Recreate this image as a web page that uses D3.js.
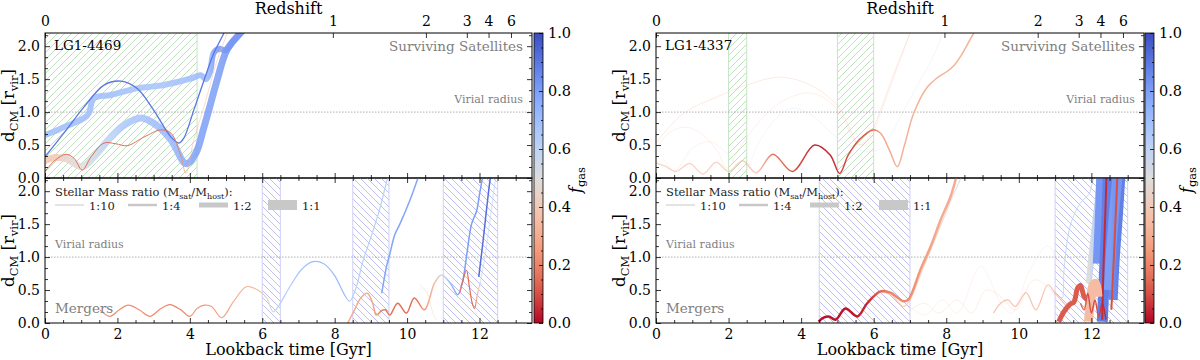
<!DOCTYPE html>
<html>
<head>
<meta charset="utf-8">
<script src="https://cdn.jsdelivr.net/npm/d3@7"></script>
<style>
body { margin: 0; background: #fff; }
text { font-family: "DejaVu Serif", serif; }
</style>
</head>
<body>
<div id="chart-area"></div>
<script>
// ---- data: each point is [lookback time (Gyr), d_CM (r_vir), f_gas] ----
var tMax = 13.45, dMax = 2.2;
var xMajor = [0, 2, 4, 6, 8, 10, 12];
var yMajor = [0, 0.5, 1.0, 1.5, 2.0];
var cbMajor = [0, 0.2, 0.4, 0.6, 0.8, 1.0];
var zLabels = ["0", "1", "2", "3", "4", "6"];
var zTimes = [0, 7.95, 10.52, 11.65, 12.25, 12.87];
var ratioLabels = ["1:10", "1:4", "1:2", "1:1"];
var ratioValues = [0.1, 0.25, 0.5, 1.0];

// LG1-4469 surviving satellites
var satLA = [[0,0.65,0.7],[0.52,0.77,0.7],[1.08,0.91,0.7],[1.21,0.98,0.7],[1.35,1.21,0.7],[1.82,1.26,0.7],[2.54,1.36,0.68],[3.28,1.41,0.68],[4.03,1.51,0.7],[4.3,1.56,0.72],[4.45,1.5,0.72],[4.56,1.62,0.75],[4.66,1.9,0.8],[4.8,1.96,0.82],[5.0,1.94,0.82],[5.2,2.08,0.82],[5.5,2.26,0.82]];
var satLB = [[0,0.27,0.38],[0.3,0.31,0.4],[0.6,0.29,0.45],[1.03,0.17,0.5],[1.35,0.32,0.55],[1.82,0.62,0.62],[2.18,0.8,0.66],[2.65,0.91,0.68],[3.0,0.83,0.7],[3.48,0.58,0.72],[3.83,0.24,0.76],[3.94,0.22,0.78],[4.17,0.38,0.8],[4.39,0.77,0.8],[4.58,1.14,0.8],[4.75,1.48,0.8],[5.02,1.94,0.82],[5.3,2.14,0.82],[5.56,2.3,0.82]];
var satLC = [[0,0.32,0.9],[0.52,0.68,0.9],[1.08,1.08,0.9],[1.63,1.41,0.9],[2.1,1.47,0.9],[2.54,1.36,0.9],[3.0,1.03,0.9],[3.48,0.62,0.9],[3.7,0.53,0.9],[3.83,0.6,0.9],[4.11,1.03,0.9],[4.39,1.48,0.9],[4.66,1.89,0.9],[4.94,2.2,0.9],[5.0,2.3,0.9]];
var satLD = [[0,0.1,0.15],[0.28,0.27,0.15],[0.58,0.36,0.15],[0.8,0.3,0.15],[1.03,0.12,0.15],[1.27,0.32,0.15],[1.63,0.53,0.15],[1.95,0.52,0.15],[2.27,0.49,0.15],[2.73,0.62,0.15],[3.2,0.73,0.15],[3.48,0.68,0.15],[3.76,0.32,0.2],[3.89,0.07,0.3],[4.11,0.58,0.35],[4.39,1.08,0.35],[4.75,1.78,0.35],[5.0,2.15,0.35],[5.1,2.3,0.35]];

// LG1-4469 mergers
var mergLA = [[1.52,0.2,0.22],[1.79,0.1,0.22],[2.05,0.2,0.22],[2.3,0.27,0.22],[2.6,0.2,0.22],[2.9,0.1,0.22],[3.2,0.22,0.22],[3.45,0.28,0.2],[3.75,0.2,0.2],[4.0,0.1,0.22],[4.2,0.22,0.25],[4.4,0.27,0.25],[4.6,0.25,0.25],[4.88,0.08,0.28],[5.2,0.32,0.3],[5.56,0.55,0.32],[5.88,0.5,0.35],[6.12,0.38,0.45],[6.3,0.17,0.55],[6.43,0.24,0.62],[6.76,0.55,0.65],[7.1,0.82,0.68],[7.4,0.93,0.7],[7.7,0.9,0.7],[8.0,0.72,0.72],[8.25,0.45,0.72],[8.41,0.33,0.65],[8.6,0.55,0.62],[8.77,0.92,0.62],[9.0,1.3,0.62],[9.24,1.72,0.62],[9.46,2.2,0.62],[9.5,2.28,0.62]];
var mergLB = [[9.3,0.45,0.78],[9.43,0.85,0.78],[9.52,1.04,0.78],[9.66,1.34,0.78],[9.8,1.5,0.78],[10.07,1.85,0.78],[10.3,2.2,0.78],[10.36,2.3,0.78]];
var mergLC = [[8.36,0,0.3],[8.55,0.2,0.3],[8.72,0.38,0.3],[8.9,0.45,0.3],[9.05,0.3,0.28],[9.15,0.12,0.25],[9.3,0.19,0.2],[9.4,0.2,0.18],[9.52,0.12,0.18],[9.74,0.3,0.15],[9.98,0.15,0.15],[10.2,0.38,0.15],[10.48,0.2,0.25],[10.76,0.61,0.35],[10.95,0.73,0.55],[11.2,0.6,0.7],[11.4,0.43,0.78],[11.53,0.62,0.8],[11.65,1.04,0.8],[11.78,1.5,0.8],[11.92,1.7,0.8],[12.0,1.95,0.8],[12.08,2.2,0.8],[12.12,2.3,0.8]];
var mergLD = [[10.35,0.58,0.4],[10.56,0.45,0.4],[10.7,0.17,0.4],[10.8,0.05,0.4]];
var mergLE = [[11.45,0.45,0.2],[11.53,0.62,0.15],[11.64,0.8,0.15],[11.72,0.55,0.15],[11.8,0.3,0.15],[11.86,0.22,0.15],[11.95,0.45,0.35],[12.02,0.62,0.5]];
var mergLF = [[11.98,0.7,0.92],[12.1,1.25,0.92],[12.2,1.75,0.92],[12.3,2.2,0.92],[12.34,2.3,0.92]];
var mergLG = [[12.0,0.55,0.6],[12.15,1.0,0.62],[12.3,1.6,0.62],[12.45,2.2,0.65],[12.5,2.3,0.65]];

// LG1-4337 surviving satellites
var satRA = [[0,0.23,0.3],[0.25,0.18,0.3],[0.55,0.1,0.3],[0.93,0.22,0.3],[1.29,0.06,0.3],[1.66,0.24,0.3],[2.0,0.1,0.3],[2.39,0.26,0.28],[2.76,0.08,0.25],[3.22,0.36,0.15],[3.76,0.1,0.12],[4.37,0.5,0.05],[4.8,0.35,0.05],[5.06,0.07,0.08],[5.3,0.35,0.1],[5.6,0.58,0.1],[5.98,0.73,0.15],[6.19,0.68,0.28],[6.45,0.4,0.3],[6.65,0.17,0.32],[6.85,0.5,0.32],[7.1,0.98,0.32],[7.48,1.38,0.32],[7.75,1.52,0.32],[8.03,1.62,0.32],[8.2,1.7,0.32],[8.4,1.85,0.32],[8.76,2.2,0.32],[8.9,2.3,0.32]];
var satRB = [[0,0.53,0.3],[0.75,0.98,0.3],[1.68,1.23,0.3],[2.5,1.41,0.3],[3.43,1.53,0.3],[4.25,1.41,0.3],[5.0,1.1,0.3],[5.36,0.73,0.3],[5.6,0.5,0.3],[5.85,0.6,0.3],[6.1,0.9,0.3],[6.5,1.5,0.3],[7.0,2.2,0.3],[7.06,2.3,0.3]];
var satRC = [[0,0.45,0.35],[0.4,0.7,0.35],[0.85,0.77,0.35],[1.3,0.65,0.35],[1.7,0.4,0.35],[1.96,0.15,0.35],[2.3,0.45,0.35],[3.0,0.95,0.35],[3.6,1.2,0.35],[4.25,1.29,0.35],[4.8,1.15,0.35],[5.2,0.85,0.35],[5.5,0.55,0.35],[5.8,0.5,0.35],[6.2,1.0,0.35],[6.6,1.6,0.35],[7.0,2.2,0.35],[7.06,2.3,0.35]];
var satRD = [[0.2,0.3,0.35],[0.5,0.1,0.35],[1.0,0.45,0.35],[1.49,0.55,0.35],[2.0,0.35,0.35],[2.4,0.1,0.4],[2.9,0.6,0.55],[3.4,0.95,0.62],[3.78,1.06,0.62],[4.3,0.95,0.62],[4.8,0.7,0.62],[5.3,0.5,0.62],[5.8,0.4,0.62],[6.2,0.45,0.62],[6.8,1.0,0.62],[7.3,1.5,0.62],[7.6,1.8,0.62],[7.9,2.2,0.62],[7.95,2.3,0.62]];

// LG1-4337 mergers
var mergRA = [[4.48,0.02,0.02],[4.62,0.08,0.02],[4.76,0.1,0.02],[4.95,0.05,0.02],[5.22,0.22,0.02],[5.55,0.1,0.03],[5.82,0.3,0.05],[6.19,0.48,0.15],[6.46,0.46,0.2],[6.82,0.33,0.22],[6.95,0.35,0.22],[7.29,0.81,0.25],[7.57,1.16,0.28],[7.85,1.57,0.3],[8.12,1.92,0.3],[8.27,2.2,0.3],[8.32,2.3,0.3]];
var mergRB = [[6.2,0.47,0.35],[6.5,0.42,0.35],[6.82,0.25,0.35],[7.0,0.35,0.38],[7.3,0.75,0.4],[7.6,1.15,0.42],[7.9,1.55,0.45],[8.2,1.95,0.5],[8.4,2.2,0.55],[8.45,2.3,0.55]];
var mergRC = [[6.9,0.3,0.3],[7.4,0.12,0.3],[7.9,0.35,0.3],[8.3,0.15,0.3],[8.95,0.86,0.3],[9.5,0.3,0.3],[9.8,0.15,0.3],[10.3,0.8,0.3],[10.8,1.17,0.3],[11.2,0.7,0.3]];
var mergRD = [[7.0,0.2,0.3],[7.4,0.3,0.3],[7.8,0.15,0.3],[8.3,0.35,0.3],[8.7,0.15,0.3],[9.1,0.5,0.3],[9.5,0.4,0.3],[9.9,0.2,0.3],[10.4,0.65,0.3],[10.8,0.55,0.3],[11.1,0.3,0.3]];
var mergRE = [[9.3,0.15,0.25],[9.5,0.3,0.25],[9.7,0.35,0.25],[9.9,0.25,0.25],[10.2,0.46,0.25],[10.47,0.2,0.25],[10.8,0.58,0.25],[11.0,0.45,0.25],[11.16,0.35,0.25],[11.4,0.2,0.25]];
var mergRF = [[11.1,0.02,0.12],[11.24,0.17,0.12],[11.4,0.28,0.12],[11.52,0.32,0.12],[11.62,0.53,0.12],[11.7,0.57,0.12],[11.8,0.4,0.12],[11.9,0.35,0.12]];
var mergRG = [[11.15,0.4,0.62],[11.2,0.38,0.62],[11.25,0.84,0.62],[11.43,1.5,0.62],[11.71,1.83,0.62],[11.93,1.95,0.62],[12.04,2.15,0.62],[12.1,2.3,0.62]];
var mergRH = [[11.92,0.02,0.35],[11.98,0.35,0.35],[12.05,0.58,0.35],[12.12,0.6,0.35],[12.18,0.4,0.35]];
var mergRI = [[11.93,0.6,0.5],[12.0,1.0,0.55],[12.1,1.5,0.62],[12.18,1.9,0.72],[12.24,2.3,0.78]];
var mergRJ = [[12.3,0.02,0.88],[12.34,0.5,0.88],[12.38,1.0,0.88],[12.42,1.5,0.88],[12.45,2.0,0.88],[12.47,2.3,0.88]];
var mergRK = [[12.48,0.5,0.8],[12.53,1.0,0.8],[12.6,1.5,0.82],[12.68,2.0,0.82],[12.73,2.3,0.82]];
var mergRL = [[12.15,0.9,0.82],[12.2,1.5,0.82],[12.25,2.3,0.82]];
var mergRM = [[11.7,0.3,0.15],[11.8,0.2,0.15],[11.9,0.45,0.1],[12.0,0.15,0.1],[12.1,0.35,0.1],[12.2,0.1,0.1],[12.3,0.3,0.05],[12.4,0.05,0.05]];
var mergRN = [[12.3,0.05,0.05],[12.33,0.8,0.05],[12.38,1.6,0.05],[12.42,2.3,0.05]];
var mergRO = [[12.55,0.2,0.1],[12.62,1.0,0.1],[12.72,2.3,0.1]];
var mergRP = [[12.6,0.35,0.86],[12.66,1.0,0.86],[12.74,1.6,0.88],[12.82,2.3,0.88]];

// hatched spans (Gyr)
var leftTopSpans = [[0, 4.2]];
var leftBottomSpans = [[6.0, 6.5], [8.5, 9.5], [11.0, 12.5]];
var rightTopSpans = [[2.0, 2.5], [5.0, 6.0]];
var rightBottomSpans = [[4.5, 7.0], [11.0, 13.0]];

// ---- styling ----
var fgasColor = d3.piecewise(d3.interpolateRgb, ["#b40426", "#de604d", "#f49a7b", "#f5c4ad", "#dddddd", "#b8d0f9", "#8db0fe", "#6282ea", "#3b4cc0"]);
var widthOf = function(r) { return 10 * r; };

var panels = [
  { key: "L", name: "LG1-4469", x0: 45, x1: 532, cb: 534,
    topSpans: leftTopSpans, bottomSpans: leftBottomSpans,
    topCurves: [
      { pts: satLA, ratio: 0.6, alpha: 0.85 },
      { pts: satLB, ratio: 0.7, alpha: 0.85 },
      { pts: satLC, ratio: 0.13, alpha: 1 },
      { pts: satLD, ratio: 0.1, alpha: [[0, 1], [3.7, 1], [3.95, 0.5], [5.1, 0.5]] }
    ],
    bottomCurves: [
      { pts: mergLA, ratio: 0.12, alpha: 1 },
      { pts: mergLB, ratio: 0.15, alpha: 1 },
      { pts: mergLC, ratio: 0.15, alpha: 1 },
      { pts: mergLD, ratio: 0.1, alpha: 0.4 },
      { pts: mergLE, ratio: 0.12, alpha: 1 },
      { pts: mergLF, ratio: 0.15, alpha: 1 },
      { pts: mergLG, ratio: 0.12, alpha: 0.5 }
    ] },
  { key: "R", name: "LG1-4337", x0: 656, x1: 1144, cb: 1145,
    topSpans: rightTopSpans, bottomSpans: rightBottomSpans,
    topCurves: [
      { pts: satRB, ratio: 0.1, alpha: 0.25 },
      { pts: satRC, ratio: 0.1, alpha: 0.22 },
      { pts: satRD, ratio: 0.1, alpha: 0.2 },
      { pts: satRA, ratio: 0.15, alpha: [[0, 0.45], [2.8, 0.5], [3.3, 1], [8.9, 1]] }
    ],
    bottomCurves: [
      { pts: mergRC, ratio: 0.1, alpha: 0.15 },
      { pts: mergRD, ratio: 0.1, alpha: 0.2 },
      { pts: mergRE, ratio: 0.12, alpha: 0.6 },
      { pts: mergRB, ratio: 0.12, alpha: 0.8 },
      { pts: mergRA, ratio: 0.25, alpha: 1 },
      { pts: mergRG, ratio: 0.1, alpha: 0.8 },
      { pts: mergRI, ratio: 0.6, alpha: 1 },
      { pts: mergRL, ratio: 0.8, alpha: 1 },
      { pts: mergRP, ratio: 0.9, alpha: 1 },
      { pts: mergRJ, ratio: 1.1, alpha: 1 },
      { pts: mergRK, ratio: 1.0, alpha: 1 },
      { pts: mergRN, ratio: 0.2, alpha: 1 },
      { pts: mergRO, ratio: 0.2, alpha: 1 },
      { pts: mergRF, ratio: 0.5, alpha: 1 },
      { pts: mergRH, ratio: 0.9, alpha: 1 },
      { pts: mergRM, ratio: 0.15, alpha: 1 }
    ] }
];
var rowRange = { top: [178, 33], bottom: [323, 178] };

var svg = d3.select("#chart-area").append("svg").attr("width", 1200).attr("height", 360);
var defs = svg.append("defs");

// hatch patterns
defs.append("pattern").attr("id", "hatchGreen").attr("patternUnits", "userSpaceOnUse")
  .attr("width", 7).attr("height", 7)
  .append("path").attr("d", "M-1,1 l2,-2 M0,7 l7,-7 M6,8 l2,-2")
  .attr("stroke", "#b5dcb5").attr("stroke-width", 0.9);
defs.append("pattern").attr("id", "hatchBlue").attr("patternUnits", "userSpaceOnUse")
  .attr("width", 7).attr("height", 7)
  .append("path").attr("d", "M-1,6 l2,2 M0,0 l7,7 M6,-1 l2,2")
  .attr("stroke", "#b8b8f0").attr("stroke-width", 0.9);

var gradCount = 0;
var line = d3.line().curve(d3.curveCatmullRom.alpha(0.5));

function styleAxis(a, size) {
  a.selectAll(".domain").remove();
  a.selectAll(".tick line").attr("stroke", "#000").attr("stroke-width", 0.8);
  a.selectAll("text").attr("font-family", "DejaVu Serif").attr("font-size", size).attr("fill", "#000");
}

function drawRow(p, row) {
  var x = d3.scaleLinear().domain([0, tMax]).range([p.x0, p.x1]);
  var y = d3.scaleLinear().domain([0, dMax]).range(rowRange[row]);
  var spans = row == "top" ? p.topSpans : p.bottomSpans;
  var curves = row == "top" ? p.topCurves : p.bottomCurves;
  var clipId = "clip" + p.key + row;
  defs.append("clipPath").attr("id", clipId).append("rect")
    .attr("x", p.x0).attr("y", y(dMax)).attr("width", p.x1 - p.x0).attr("height", y(0) - y(dMax));

  var g = svg.append("g").attr("clip-path", "url(#" + clipId + ")");

  // hatched spans
  spans.forEach(function(s) {
    g.append("rect").attr("x", x(s[0])).attr("y", y(dMax)).attr("width", x(s[1]) - x(s[0]))
      .attr("height", y(0) - y(dMax))
      .attr("fill", row == "top" ? "url(#hatchGreen)" : "url(#hatchBlue)");
    s.forEach(function(t) {
      g.append("line").attr("x1", x(t)).attr("x2", x(t)).attr("y1", y(0)).attr("y2", y(dMax))
        .attr("stroke", row == "top" ? "#c5e5c5" : "#d0d0f8").attr("stroke-width", 1);
    });
  });

  // virial radius
  g.append("line").attr("x1", p.x0).attr("x2", p.x1).attr("y1", y(1)).attr("y2", y(1))
    .attr("stroke", "#999").attr("stroke-width", 0.8).attr("stroke-dasharray", "1.5,1.5");

  // curves coloured by f_gas
  curves.forEach(function(c) {
    var pts = c.pts;
    var xa = x(pts[0][0]), xb = x(pts[pts.length - 1][0]);
    var alphaAt = typeof c.alpha == "number" ? function() { return c.alpha; }
      : d3.scaleLinear().domain(c.alpha.map(function(a) { return a[0]; }))
          .range(c.alpha.map(function(a) { return a[1]; })).clamp(true);
    var gid = "grad" + (gradCount++);
    var lg = defs.append("linearGradient").attr("id", gid).attr("gradientUnits", "userSpaceOnUse")
      .attr("x1", xa).attr("x2", xb).attr("y1", 0).attr("y2", 0);
    pts.forEach(function(pt) {
      lg.append("stop").attr("offset", (x(pt[0]) - xa) / (xb - xa))
        .attr("stop-color", fgasColor(pt[2])).attr("stop-opacity", alphaAt(pt[0]));
    });
    g.append("path")
      .attr("d", line(pts.map(function(pt) { return [x(pt[0]), y(pt[1])]; })))
      .attr("fill", "none").attr("stroke", "url(#" + gid + ")")
      .attr("stroke-width", widthOf(c.ratio))
      .attr("stroke-linejoin", "round").attr("stroke-linecap", "butt");
  });

  // axes (ticks inward)
  var minorX = d3.range(0, tMax, 0.5).filter(function(v) { return v % 2 != 0; });
  var minorY = d3.range(0, dMax, 0.5 / 3).filter(function(v) { return Math.abs(v * 2 - Math.round(v * 2)) > 0.01; });

  var axisG = svg.append("g");
  axisG.append("g").attr("transform", "translate(0," + y(0) + ")")
    .call(d3.axisBottom(x).tickValues(xMajor).tickSizeInner(-5).tickSizeOuter(0).tickPadding(6)
      .tickFormat(row == "bottom" ? d3.format("d") : function() { return ""; }));
  axisG.append("g").attr("transform", "translate(0," + y(0) + ")")
    .call(d3.axisBottom(x).tickValues(minorX).tickSizeInner(-3).tickSizeOuter(0).tickFormat(""));

  if (row == "top") {
    axisG.append("g").attr("transform", "translate(0," + y(dMax) + ")")
      .call(d3.axisTop(x).tickValues(zTimes).tickSizeInner(-5).tickSizeOuter(0).tickPadding(7)
        .tickFormat(function(d, i) { return zLabels[i]; }));
  } else {
    axisG.append("g").attr("transform", "translate(0," + y(dMax) + ")")
      .call(d3.axisTop(x).tickValues(xMajor).tickSizeInner(-5).tickSizeOuter(0).tickFormat(""));
    axisG.append("g").attr("transform", "translate(0," + y(dMax) + ")")
      .call(d3.axisTop(x).tickValues(minorX).tickSizeInner(-3).tickSizeOuter(0).tickFormat(""));
  }

  axisG.append("g").attr("transform", "translate(" + p.x0 + ",0)")
    .call(d3.axisLeft(y).tickValues(yMajor).tickSizeInner(-5).tickSizeOuter(0).tickPadding(5).tickFormat(d3.format(".1f")));
  axisG.append("g").attr("transform", "translate(" + p.x0 + ",0)")
    .call(d3.axisLeft(y).tickValues(minorY).tickSizeInner(-3).tickSizeOuter(0).tickFormat(""));
  axisG.append("g").attr("transform", "translate(" + p.x1 + ",0)")
    .call(d3.axisRight(y).tickValues(yMajor).tickSizeInner(-5).tickSizeOuter(0).tickFormat(""));
  axisG.append("g").attr("transform", "translate(" + p.x1 + ",0)")
    .call(d3.axisRight(y).tickValues(minorY).tickSizeInner(-3).tickSizeOuter(0).tickFormat(""));
  styleAxis(axisG, 14);

  // frame
  svg.append("rect").attr("x", p.x0).attr("y", y(dMax)).attr("width", p.x1 - p.x0)
    .attr("height", y(0) - y(dMax)).attr("fill", "none").attr("stroke", "#000").attr("stroke-width", 1);

  // y label
  var yl = svg.append("text")
    .attr("transform", "translate(" + (p.x0 - 31) + "," + ((y(0) + y(dMax)) / 2) + ") rotate(-90)")
    .attr("text-anchor", "middle").attr("font-size", 16.5);
  yl.append("tspan").text("d");
  yl.append("tspan").attr("font-size", 11.5).attr("dy", 4).text("CM");
  yl.append("tspan").attr("dy", -4).text(" [r");
  yl.append("tspan").attr("font-size", 11.5).attr("dy", 4).text("vir");
  yl.append("tspan").attr("dy", -4).text("]");

  if (row == "top") {
    svg.append("text").attr("x", p.x0 + 9).attr("y", 50).attr("font-size", 13.5).text(p.name);
    svg.append("text").attr("x", p.x1 - 9).attr("y", 51).attr("font-size", 13.5)
      .attr("text-anchor", "end").attr("fill", "#808080").text("Surviving Satellites");
    svg.append("text").attr("x", p.x1 - 9).attr("y", y(1) - 9).attr("font-size", 11)
      .attr("text-anchor", "end").attr("fill", "#808080").text("Virial radius");
    svg.append("text").attr("x", (p.x0 + p.x1) / 2).attr("y", 14).attr("font-size", 16)
      .attr("text-anchor", "middle").text("Redshift");
  } else {
    svg.append("text").attr("x", p.x0 + 10).attr("y", y(1) - 9).attr("font-size", 11)
      .attr("fill", "#808080").text("Virial radius");
    svg.append("text").attr("x", p.x0 + 10).attr("y", 313).attr("font-size", 13.5)
      .attr("fill", "#808080").text("Mergers");
    svg.append("text").attr("x", (p.x0 + p.x1) / 2).attr("y", 355).attr("font-size", 16)
      .attr("text-anchor", "middle").text("Lookback time [Gyr]");

    // legend for mass ratio
    var lgd = svg.append("g");
    var title = lgd.append("text").attr("x", p.x0 + 10).attr("y", 196).attr("font-size", 11.5)
      .attr("font-family", "DejaVu Sans").attr("fill", "#222");
    title.append("tspan").text("Stellar Mass ratio (M");
    title.append("tspan").attr("font-size", 8).attr("dy", 3).text("sat");
    title.append("tspan").attr("dy", -3).text("/M");
    title.append("tspan").attr("font-size", 8).attr("dy", 3).text("host");
    title.append("tspan").attr("dy", -3).text("):");
    var starts = [p.x0 + 10, p.x0 + 83, p.x0 + 154, p.x0 + 223];
    ratioValues.forEach(function(r, i) {
      lgd.append("line").attr("x1", starts[i]).attr("x2", starts[i] + 29).attr("y1", 205).attr("y2", 205)
        .attr("stroke", "#c8c8c8").attr("stroke-width", widthOf(r));
      lgd.append("text").attr("x", starts[i] + 34).attr("y", 209.5).attr("font-size", 11.5)
        .attr("font-family", "DejaVu Sans").attr("fill", "#222").text(ratioLabels[i]);
    });
  }
}

panels.forEach(function(p) {
  drawRow(p, "top");
  drawRow(p, "bottom");

  // colorbar
  var cy = d3.scaleLinear().domain([0, 1]).range([323, 33]);
  var gid = "cb" + p.key;
  var lg = defs.append("linearGradient").attr("id", gid).attr("x1", 0).attr("x2", 0).attr("y1", 1).attr("y2", 0);
  d3.range(0, 1.0001, 0.05).forEach(function(v) {
    lg.append("stop").attr("offset", v).attr("stop-color", fgasColor(v));
  });
  svg.append("rect").attr("x", p.cb).attr("y", 33).attr("width", 9).attr("height", 290)
    .attr("fill", "url(#" + gid + ")").attr("stroke", "#000").attr("stroke-width", 0.8);
  var cbAxis = svg.append("g").attr("transform", "translate(" + (p.cb + 9) + ",0)");
  cbAxis.call(d3.axisRight(cy).tickValues(cbMajor).tickSizeInner(-4).tickSizeOuter(0).tickPadding(5).tickFormat(d3.format(".1f")));
  cbAxis.append("g").call(d3.axisRight(cy)
    .tickValues(d3.range(0.05, 1, 0.05).filter(function(v) { return Math.abs(v * 5 - Math.round(v * 5)) > 0.01; }))
    .tickSizeInner(-2).tickSizeOuter(0).tickFormat(""));
  styleAxis(cbAxis, 14.5);

  var fl = svg.append("text").attr("transform", "translate(" + (p.cb + 47) + ",180) rotate(-90)")
    .attr("text-anchor", "middle").attr("font-size", 16);
  fl.append("tspan").attr("font-style", "italic").text("f");
  fl.append("tspan").attr("font-size", 11.5).attr("dy", 4).text("gas");
});
</script>
</body>
</html>
